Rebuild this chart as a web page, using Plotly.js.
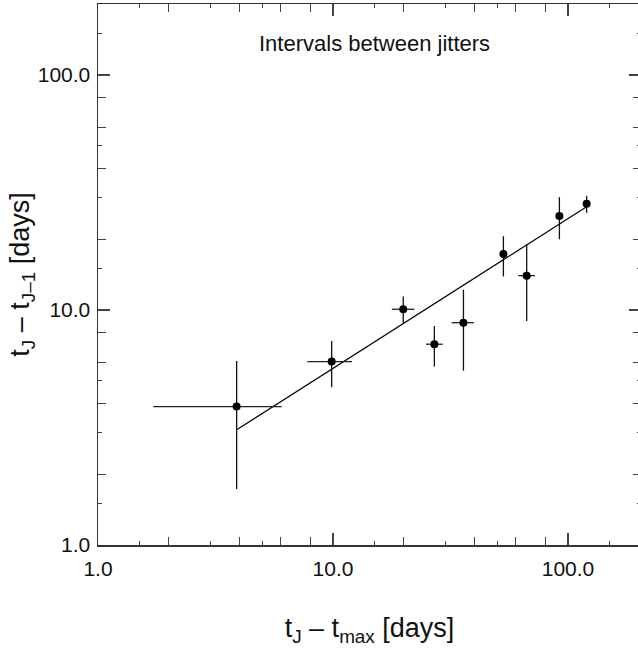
<!DOCTYPE html>
<html>
<head>
<meta charset="utf-8">
<script src="https://cdn.plot.ly/plotly-3.0.1.min.js"></script>
<style>
html,body{margin:0;padding:0;overflow:hidden;background:#fff;}
#chart{width:641px;height:651px;}
</style>
</head>
<body>
<div id="chart"></div>
<script>
// Data
const tJ      = [3.89, 9.87, 19.9, 27.0, 35.9, 53.1, 66.7, 91.9, 120];
const dt      = [3.88, 6.03, 10.07, 7.15, 8.83, 17.3, 14.0, 25.1, 28.3];
const tJLow   = [1.72, 7.78, 17.8, 24.9, 32.0, 53.1, 61.5, 91.9, 120];
const tJHigh  = [6.05, 12.05, 22.2, 29.3, 39.8, 53.1, 72.4, 91.9, 120];
const dtLow   = [1.73, 4.69, 8.78, 5.74, 5.52, 13.9, 8.98, 20.0, 25.9];
const dtHigh  = [6.07, 7.38, 11.4, 8.55, 12.2, 20.6, 19.1, 30.2, 30.6];
const fitX    = [3.89, 120];
const fitY    = [3.09, 27.5];

const majorVals  = [1, 10, 100];
const majorText  = ['1.0', '10.0', '100.0'];
const midVals    = [2, 4, 6, 8, 20, 40, 60, 80, 200];
const minorVals  = [1.5, 3, 5, 15, 30, 50, 150];

const titleText = 'Intervals between jitters';
const xTitle = 't<sub>J</sub> – t<sub>max</sub> [days]';
const yTitle = 't<sub>J</sub> – t<sub>J–1</sub> [days]';

const FONT = 'Liberation Sans, Arial, Helvetica, sans-serif';
const axisColor = '#333';

function mainAxis(range, title, extra) {
  return Object.assign({
    type: 'log',
    range: range,
    tickmode: 'array',
    tickvals: majorVals,
    ticktext: majorText,
    ticks: 'inside',
    ticklen: 12,
    tickwidth: 1.2,
    tickcolor: '#444',
    minor: {tickmode: 'array', tickvals: minorVals, ticks: 'inside', ticklen: 4, tickwidth: 1.2, tickcolor: '#444', showgrid: false},
    showline: true,
    linecolor: axisColor,
    linewidth: 1.5,
    mirror: 'ticks',
    showgrid: false,
    zeroline: false,
    automargin: false,
    tickfont: {family: FONT, size: 21, color: '#111'},
    title: {text: title, font: {family: FONT, size: 27, color: '#111'}}
  }, extra || {});
}

function overlayAxis(range, over, side) {
  return {
    type: 'log',
    range: range,
    overlaying: over,
    side: side,
    tickmode: 'array',
    tickvals: midVals,
    ticks: 'inside',
    ticklen: 8,
    tickwidth: 1.2,
    tickcolor: '#444',
    showticklabels: false,
    showline: false,
    mirror: 'ticks',
    showgrid: false,
    zeroline: false
  };
}

const xRange = [0, 2.3106];
const yRange = [0, 2.302];

const traces = [
  {
    x: fitX, y: fitY,
    mode: 'lines',
    line: {color: '#000', width: 1.2},
    hoverinfo: 'skip',
    showlegend: false
  },
  {
    x: tJ, y: dt,
    mode: 'markers',
    marker: {color: '#000', size: 8},
    error_x: {
      type: 'data', symmetric: false,
      array: tJ.map((v, i) => tJHigh[i] - v),
      arrayminus: tJ.map((v, i) => v - tJLow[i]),
      color: '#222', thickness: 1.3, width: 0
    },
    error_y: {
      type: 'data', symmetric: false,
      array: dt.map((v, i) => dtHigh[i] - v),
      arrayminus: dt.map((v, i) => v - dtLow[i]),
      color: '#111', thickness: 1.3, width: 0
    },
    showlegend: false
  },
  {
    x: [], y: [], xaxis: 'x2', yaxis: 'y2', mode: 'markers', showlegend: false, hoverinfo: 'skip'
  }
];

const xMain = mainAxis(xRange, xTitle, {ticklabelstandoff: 4});
xMain.title.standoff = 39;
const yMain = mainAxis(yRange, yTitle, {ticklabelstandoff: 2});
yMain.title.standoff = 0;

const layout = {
  width: 641,
  height: 651,
  margin: {l: 98, r: 0, t: 4, b: 106},
  paper_bgcolor: '#fff',
  plot_bgcolor: '#fff',
  showlegend: false,
  xaxis: xMain,
  yaxis: yMain,
  xaxis2: overlayAxis(xRange, 'x', 'bottom'),
  yaxis2: overlayAxis(yRange, 'y', 'left'),
  annotations: [{
    text: titleText,
    xref: 'paper', yref: 'paper',
    x: 0.51, y: 0.927,
    xanchor: 'center', yanchor: 'middle',
    showarrow: false,
    font: {family: FONT, size: 22, color: '#111'}
  }]
};

Plotly.newPlot('chart', traces, layout, {displayModeBar: false, staticPlot: true});
</script>
</body>
</html>
